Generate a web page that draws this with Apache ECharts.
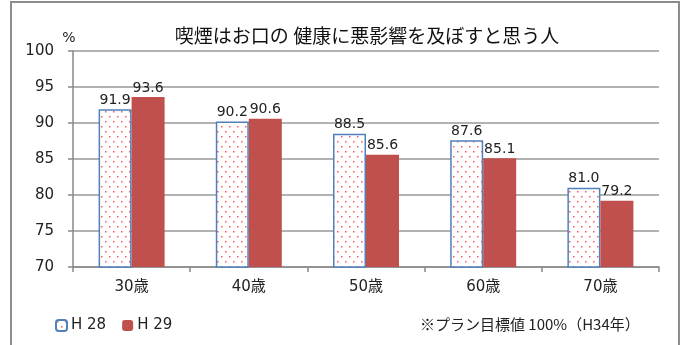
<!DOCTYPE html>
<html>
<head>
<meta charset="utf-8">
<script src="https://cdn.jsdelivr.net/npm/echarts@6/dist/echarts.min.js"></script>
<style>
  html, body { margin: 0; padding: 0; background: #fff; }
  #chart { width: 684px; height: 345px; }
</style>
</head>
<body>
<div id="chart"></div>
<script>
// Survey results by age group (percent)
const categories = ['30歳', '40歳', '50歳', '60歳', '70歳'];
const seriesNames = ['H 28', 'H 29'];
const valuesH28 = [91.9, 90.2, 88.5, 87.6, 81.0];
const valuesH29 = [93.6, 90.6, 85.6, 85.1, 79.2];
const yTicks = { min: 70, max: 100, step: 5 };

const FONT = '"DejaVu Sans", "Noto Sans CJK JP", sans-serif';
const JP_FONT = '"Noto Sans CJK JP", "Noto Sans", sans-serif';

// Dotted fill for the H28 bars: small red dots on white, staggered rows
function dotPattern() {
  const c = document.createElement('canvas');
  c.width = 8; c.height = 10;
  const ctx = c.getContext('2d');
  ctx.fillStyle = '#ffffff';
  ctx.fillRect(0, 0, 8, 10);
  ctx.fillStyle = '#ff5a5a';
  ctx.fillRect(1, 1, 1.5, 1.5);
  ctx.fillRect(5, 6, 1.5, 1.5);
  return c;
}

const chart = echarts.init(document.getElementById('chart'), null, { renderer: 'canvas' });

const labelStyle = {
  show: true,
  position: 'top',
  distance: 2,
  fontSize: 14,
  fontFamily: FONT,
  color: '#222',
  formatter: p => p.value.toFixed(1)
};

chart.setOption({
  animation: false,
  backgroundColor: '#ffffff',
  title: {
    text: '喫煙はお口の 健康に悪影響を及ぼすと思う人',
    left: 362,
    textAlign: 'center',
    top: 21,
    textStyle: { fontSize: 19, fontWeight: 'normal', color: '#111', fontFamily: JP_FONT }
  },
  legend: {
    left: 50,
    top: 313,
    itemWidth: 11,
    itemHeight: 11,
    itemGap: 16,
    textStyle: { fontSize: 15, color: '#222', fontFamily: FONT, padding: [0, 0, 0, -1] },
    data: seriesNames
  },
  grid: { left: 73, right: 25, top: 51, bottom: 78 },
  xAxis: {
    type: 'category',
    data: categories,
    axisLine: { lineStyle: { color: '#888', width: 1.5 } },
    axisTick: { show: true, length: 5, lineStyle: { color: '#888', width: 1.5 } },
    axisLabel: { margin: 13, fontSize: 15, color: '#222', fontFamily: FONT }
  },
  yAxis: {
    type: 'value',
    min: yTicks.min,
    max: yTicks.max,
    interval: yTicks.step,
    name: '%',
    nameLocation: 'end',
    nameGap: 6,
    nameTextStyle: { fontSize: 14, color: '#222', fontFamily: FONT, padding: [0, 8, 0, 0] },
    axisLine: { show: true, lineStyle: { color: '#888', width: 1.5 } },
    axisTick: { show: true, length: 5, lineStyle: { color: '#888', width: 1.5 } },
    axisLabel: { margin: 19, fontSize: 15, color: '#222', fontFamily: FONT },
    splitLine: { lineStyle: { color: '#999', width: 1.5 } }
  },
  series: [
    {
      name: seriesNames[0],
      type: 'bar',
      data: valuesH28,
      barWidth: 33,
      barGap: '0%',
      itemStyle: {
        color: { image: dotPattern(), repeat: 'repeat' },
        borderColor: '#4F81BD',
        borderWidth: 1.5
      },
      label: labelStyle
    },
    {
      name: seriesNames[1],
      type: 'bar',
      data: valuesH29,
      barWidth: 33,
      barGap: '0%',
      itemStyle: { color: '#C0504D' },
      label: labelStyle
    }
  ],
  graphic: [
    {
      type: 'rect',
      shape: { x: 11, y: 2, width: 668, height: 400 },
      style: { fill: 'none', stroke: '#8c8c8c', lineWidth: 2 },
      silent: true
    },
    {
      type: 'text',
      left: 420,
      top: 317,
      style: {
        text: '※プラン目標値 100%（H34年）',
        fontSize: 15,
        fill: '#222',
        fontFamily: JP_FONT
      }
    }
  ]
});
</script>
</body>
</html>
